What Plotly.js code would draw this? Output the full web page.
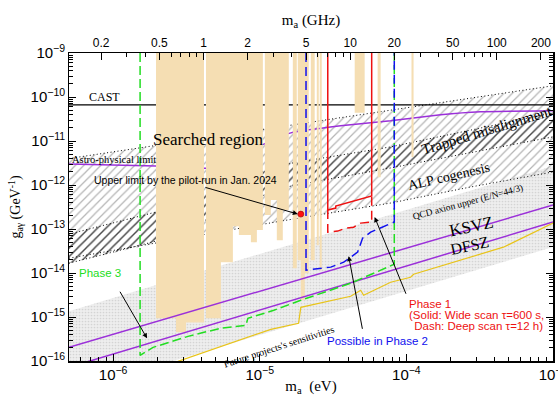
<!DOCTYPE html>
<html><head><meta charset="utf-8">
<script src="https://cdn.plot.ly/plotly-3.0.1.min.js"></script>
<style>body{margin:0;background:#fff}</style>
</head><body><div id="chart" style="width:558px;height:396px"></div>
<script>
const GHZ_TO_EV = 4.1357e-6;
const M_RANGE = [5e-7, 1e-3];
const G_TOP = 1e-9;

// CAST limit
const castM = [5e-7, 1e-3];
const castG = [6.6e-11, 6.6e-11];
// Astro-physical limit
const astroM = [5e-7, 1.96e-6, 4.8e-6, 8.7e-6, 1.63e-5, 3.56e-5, 7.81e-5, 1.71e-4, 3.2e-4, 1e-3];
const astroG = [3.01e-12, 2.71e-12, 2.44e-12, 6.27e-12, 1.53e-11, 2.21e-11, 2.87e-11, 3.94e-11, 4.61e-11, 4.85e-11];
// Upper boundary of hatched (ALP) region
const hatchTopM = [5e-7, 1e-3];
const hatchTopG = [4.0e-12, 1.8e-10];
// ALP cogenesis lower boundary
const cogenLowM = [5e-7, 1.96e-6, 1.39e-5, 7.81e-5, 2.74e-4, 1e-3];
const cogenLowG = [2.17e-14, 4.77e-14, 1.51e-13, 3.89e-13, 9.0e-13, 1.98e-12];
// lower edge of light hatch area
const lightLowM = [1e-3, 2.74e-4, 7.81e-5, 1.39e-5, 1.96e-6, 5e-7];
const lightLowG = [1.98e-12, 9.0e-13, 3.89e-13, 1.51e-13, 4.77e-14, 1.67e-14];
// Trapped misalignment band
const trapM = [5e-7, 1.96e-6, 1.39e-5, 7.81e-5, 1e-3];
const trapUpG = [7.66e-14, 2.43e-13, 2.86e-12, 7.35e-12, 4.37e-11];
const trapLowG = [1.67e-14, 5.30e-14, 8.55e-13, 2.44e-12, 1.24e-11];
// QCD axion band
const qcdM = [5e-7, 1e-3];
const qcdUpG = [1.35e-15, 2.71e-12];
const qcdLowG = [1.95e-17, 3.9e-14];
// KSVZ, DFSZ
const ksvzM = [5e-7, 1e-3];
const ksvzG = [2.05e-16, 3.5e-13];
const dfszM = [5e-7, 1e-3];
const dfszG = [7.2e-17, 1.44e-13];
// Future projects' sensitivities
const futM = [2.77e-6, 1.19e-5, 1.84e-5, 1.905e-5, 4.17e-5, 4.88e-5, 5.11e-5, 7.81e-5, 1.068e-4, 1.12e-4, 4.59e-4, 1e-3];
const futG = [9.8e-17, 5.25e-16, 7.19e-16, 1.66e-15, 2.96e-15, 4.06e-15, 3.12e-15, 6.17e-15, 8.02e-15, 9.38e-15, 3.86e-14, 1.36e-13];
// Phase 3
const p3M = [1.527e-6, 1.527e-6, 1.872e-6, 3.24e-6, 4.164e-6, 5.43e-6, 8.04e-6, 8.30e-6, 1.247e-5, 1.905e-5, 4.17e-5, 8.27e-5, 8.27e-5];
const p3G = [1e-9, 1.34e-16, 2.04e-16, 3.63e-16, 4.48e-16, 5.53e-16, 6.47e-16, 9.34e-16, 1.42e-15, 2.40e-15, 5.85e-15, 1.58e-14, 1e-9];
// Phase 2
const p2M = [2.068e-5, 2.068e-5, 3.05e-5, 3.74e-5, 4.65e-5, 5.03e-5, 5.71e-5, 8.27e-5, 8.27e-5];
const p2G = [1e-9, 1.16e-14, 1.36e-14, 1.76e-14, 2.98e-14, 6.21e-14, 8.5e-14, 1.44e-13, 1e-9];
// Phase 1 (solid: wide scan, dash: deep scan)
const p1sM = [2.91e-5, 2.91e-5, 3.30e-5, 3.30e-5, 5.80e-5, 5.80e-5];
const p1sG = [1e-9, 2.69e-13, 2.99e-13, 3.32e-13, 5.61e-13, 1e-9];
const p1dM = [2.91e-5, 2.91e-5, 3.40e-5, 3.86e-5, 4.37e-5, 4.88e-5, 5.80e-5, 5.80e-5];
const p1dG = [2.69e-13, 8.5e-14, 8.95e-14, 1.05e-13, 1.10e-13, 1.36e-13, 1.44e-13, 5.61e-13];
// Pilot run upper limit
const pilotM = [1.905e-5];
const pilotG = [2.18e-13];
// Searched region (GHz intervals, lower limit g)
const searchLoGHz = [0.474, 0.649, 0.760, 1.039, 1.314, 1.586, 1.742, 2.104, 2.311, 2.619, 2.877, 3.161, 3.472, 4.063, 4.394, 4.606, 4.903, 5.39, 5.92, 6.20, 10.74, 15.40, 26.2];
const searchHiGHz = [0.649, 0.760, 1.007, 1.314, 1.586, 1.742, 2.104, 2.311, 2.539, 2.877, 3.161, 3.472, 3.815, 4.325, 4.606, 4.903, 5.22, 5.73, 6.11, 6.40, 12.56, 16.14, 27.07];
const searchLimG = [9.34e-16, 4.48e-16, 7.46e-16, 9.34e-16, 1.76e-14, 1.16e-13, 7.26e-14, 5.03e-14, 9.44e-14, 2.07e-13, 4.55e-13, 5.58e-14, 2.69e-13, 1.29e-14, 1.95e-14, 2.40e-15, 9.89e-15, 1.95e-14, 4.30e-14, 1.16e-14, 4.37e-11, 1.5e-12, 4.35e-12];
// Top axis ticks (GHz)
const ghzTicks = [0.2, 0.5, 1, 2, 5, 10, 20, 50, 100, 200];
const ghzLabels = ['0.2', '0.5', '1', '2', '5', '10', '20', '50', '100', '200'];
const ghzMinor = [0.3, 0.4, 0.6, 0.7, 0.8, 0.9, 3, 4, 6, 7, 8, 9, 30, 40, 60, 70, 80, 90];

const SERIF = 'Liberation Serif, Times New Roman, serif';
const SANS = 'Liberation Sans, Arial, sans-serif';

function band(m, up, low, lowM) {
  const lm = lowM || m.slice().reverse();
  const lg = lowM ? low : low.slice().reverse();
  return {x: m.concat(lm, [m[0]]), y: up.concat(lg, [up[0]])};
}
const traces = [];
// QCD band
let b = band(qcdM, qcdUpG, qcdLowG);
traces.push({x: b.x, y: b.y, mode: 'lines', fill: 'toself', line: {width: 0}, fillcolor: '#ececec',
  fillpattern: {shape: '.', fgcolor: '#d4d4d4', bgcolor: '#eeeeee', size: 3, solidity: 0.25}, hoverinfo: 'skip'});
// light hatch
b = band(hatchTopM, hatchTopG, lightLowG, lightLowM);
traces.push({x: b.x, y: b.y, mode: 'lines', fill: 'toself', line: {width: 0}, fillcolor: 'rgba(0,0,0,0)',
  fillpattern: {shape: '/', fgcolor: '#b4b4b4', bgcolor: 'rgba(0,0,0,0)', size: 6, solidity: 0.2}, hoverinfo: 'skip'});
// trapped misalignment dark hatch
b = band(trapM, trapUpG, trapLowG);
traces.push({x: b.x, y: b.y, mode: 'lines', fill: 'toself', line: {width: 0}, fillcolor: 'rgba(0,0,0,0)',
  fillpattern: {shape: '/', fgcolor: '#4a4a4a', bgcolor: 'rgba(0,0,0,0)', size: 6, solidity: 0.2}, hoverinfo: 'skip'});
// dotted boundaries
const dotted = {color: 'black', width: 1, dash: '1px,2.5px'};
[[hatchTopM, hatchTopG], [cogenLowM, cogenLowG], [trapM, trapUpG], [trapM, trapLowG]].forEach(p => {
  traces.push({x: p[0], y: p[1], mode: 'lines', line: dotted, hoverinfo: 'skip'});
});
// CAST & astro
traces.push({x: castM, y: castG, mode: 'lines', line: {color: 'black', width: 1.2}});
traces.push({x: astroM, y: astroG, mode: 'lines', line: {color: '#9b30d9', width: 1.5, shape: 'spline', smoothing: 0.4}});
// searched region: one skyline polygon; contiguous intervals are joined along the bottom
const sx = [], sy = [];
for (let i = 0; i < searchLoGHz.length; i++) {
  const a = searchLoGHz[i] * GHZ_TO_EV, c = searchHiGHz[i] * GHZ_TO_EV, g = searchLimG[i];
  const joined = i > 0 && Math.abs(searchLoGHz[i] - searchHiGHz[i - 1]) < 1e-9;
  if (!joined) {
    if (i > 0) { sx.push(searchHiGHz[i - 1] * GHZ_TO_EV); sy.push(G_TOP); }
    sx.push(a); sy.push(G_TOP);
  }
  sx.push(a, c); sy.push(g, g);
}
sx.push(searchHiGHz[searchHiGHz.length - 1] * GHZ_TO_EV, sx[0]);
sy.push(G_TOP, G_TOP);
traces.push({x: sx, y: sy, mode: 'lines', fill: 'toself', fillcolor: '#f5deb3',
  line: {width: 0, simplify: false}, hoverinfo: 'skip'});
// KSVZ, DFSZ
traces.push({x: ksvzM, y: ksvzG, mode: 'lines', line: {color: '#9b30d9', width: 1.5}});
traces.push({x: dfszM, y: dfszG, mode: 'lines', line: {color: '#9b30d9', width: 1.5}});
// future
traces.push({x: futM, y: futG, mode: 'lines', line: {color: '#e8c41a', width: 1.2}});
// phases
traces.push({x: p3M, y: p3G, mode: 'lines', line: {color: '#22dd22', width: 1.5, dash: '9px,4px'}});
traces.push({x: p2M, y: p2G, mode: 'lines', line: {color: '#1010ee', width: 1.5, dash: '9px,5px'}});
traces.push({x: p1sM, y: p1sG, mode: 'lines', line: {color: '#ee1111', width: 1.5}});
traces.push({x: p1dM, y: p1dG, mode: 'lines', line: {color: '#ee1111', width: 1.5, dash: '9px,5px'}});
traces.push({x: pilotM, y: pilotG, mode: 'markers', marker: {size: 6, color: '#ff1010', line: {color: '#900', width: 0.6}}});
// invisible trace to carry top axis
traces.push({x: M_RANGE, y: [1e-12, 1e-12], xaxis: 'x2', mode: 'lines', line: {width: 0}, opacity: 0, hoverinfo: 'skip'});

const LX = x => -6 + (x - 112) / 146.9;
const LY = y => -9 - (y - 53.3) / 43.9;
function txt(text, x, y, size, o) {
  o = o || {};
  return {text: text, x: LX(x), y: LY(y), xref: 'x', yref: 'y', showarrow: false,
    font: {family: o.family || SERIF, size: size, color: o.color || 'black'},
    xanchor: o.xanchor || 'center', yanchor: 'middle', textangle: o.angle || 0};
}
function arrow(x0, y0, x1, y1) {
  return {x: LX(x1), y: LY(y1), ax: LX(x0), ay: LY(y0), xref: 'x', yref: 'y', axref: 'x', ayref: 'y',
    text: '', showarrow: true, arrowhead: 2, arrowsize: 1, arrowwidth: 1, arrowcolor: 'black', standoff: 0, startstandoff: 0};
}
const annotations = [
  txt('CAST', 103, 97.5, 12),
  txt('Astro-physical limit', 69, 160, 10.5, {xanchor: 'left'}),
  txt('Searched region', 207, 140, 17),
  txt('Upper limit by the pilot-run in Jan. 2024', 184, 180.5, 10.5, {family: SANS}),
  txt('Trapped misalignment', 487, 130, 15, {angle: -17}),
  txt('ALP cogenesis', 448, 177, 14, {angle: -13}),
  txt('QCD axion upper (E/N=44/3)', 468, 202, 9.5, {angle: -15}),
  txt('KSVZ', 471, 226, 17, {angle: -12}),
  txt('DFSZ', 469, 245, 16, {angle: -12}),
  txt("Future projects's sensitivities", 278, 346, 10, {angle: -18}),
  txt('Phase 3', 99, 273, 11.5, {family: SANS, color: '#22dd22'}),
  txt('Possible in Phase 2', 377, 341, 11.5, {family: SANS, color: '#1010ee'}),
  txt('Phase 1', 406, 304, 11.5, {family: SANS, color: '#ee1111', xanchor: 'left'}),
  txt('(Solid: Wide scan τ=600 s,', 406, 315, 11.5, {family: SANS, color: '#ee1111', xanchor: 'left'}),
  txt(' Dash: Deep scan τ=12 h)', 408, 326, 11.5, {family: SANS, color: '#ee1111', xanchor: 'left'}),
  arrow(203, 187, 297, 214),
  arrow(118, 290, 146, 338),
  arrow(362, 330, 348, 256),
  arrow(406, 295, 374, 217)
];

const axisCommon = {
  type: 'log', showgrid: false, zeroline: false, showline: true, linecolor: 'black', linewidth: 1.5,
  ticks: 'inside', ticklen: 7, tickwidth: 1, tickcolor: 'black',
  tickfont: {family: SANS, size: 12, color: 'black'}
};
const layout = {
  width: 558, height: 396,
  margin: {l: 69, r: 5, t: 53, b: 35},
  paper_bgcolor: 'white', plot_bgcolor: 'white', showlegend: false,
  font: {family: SANS, size: 12, color: 'black'},
  xaxis: Object.assign({}, axisCommon, {
    range: [Math.log10(M_RANGE[0]), Math.log10(M_RANGE[1])], dtick: 1, exponentformat: 'power',
    ticklabeloverflow: 'allow',
    minor: {dtick: 'D1', ticks: 'inside', ticklen: 4, tickcolor: 'black', showgrid: false},
    title: {text: 'm<sub>a</sub>  (eV)', font: {family: SERIF, size: 15}, standoff: 6}
  }),
  xaxis2: Object.assign({}, axisCommon, {
    overlaying: 'x', side: 'top', anchor: 'y',
    range: [Math.log10(M_RANGE[0]), Math.log10(M_RANGE[1])],
    tickmode: 'array', tickvals: ghzTicks.map(f => f * GHZ_TO_EV), ticktext: ghzLabels,
    minor: {tickmode: 'array', tickvals: ghzMinor.map(f => f * GHZ_TO_EV), ticks: 'inside', ticklen: 4, tickcolor: 'black', showgrid: false},
    title: {text: 'm<sub>a</sub> (GHz)', font: {family: SERIF, size: 15}, standoff: 6}
  }),
  yaxis: Object.assign({}, axisCommon, {
    range: [-16, -9], dtick: 1, exponentformat: 'power', mirror: 'ticks',
    minor: {dtick: 'D1', ticks: 'inside', ticklen: 4, tickcolor: 'black', showgrid: false},
    title: {text: 'g<sub>aγ</sub> (GeV<sup>-1</sup>)', font: {family: SERIF, size: 14}, standoff: 6}
  }),
  annotations: annotations
};
Plotly.newPlot('chart', traces, layout, {staticPlot: true, displayModeBar: false});
</script>
</body></html>
